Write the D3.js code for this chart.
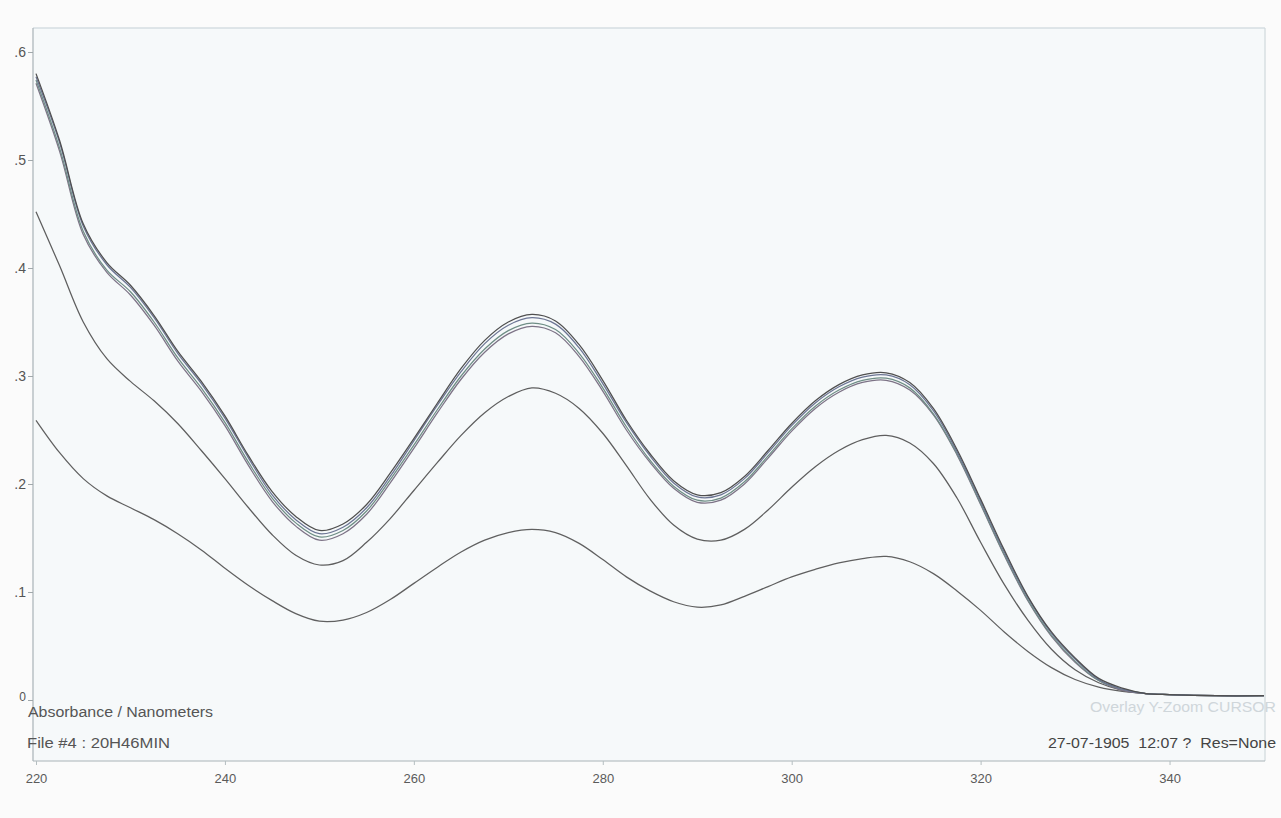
<!DOCTYPE html>
<html>
<head>
<meta charset="utf-8">
<script src="https://cdn.jsdelivr.net/npm/d3@7"></script>
<style>
  html, body { margin: 0; padding: 0; background: #fbfbfb; }
  svg { display: block; }
  text { font-family: "Liberation Sans", Arial, sans-serif; }
</style>
</head>
<body>
<svg id="chart" width="1281" height="818"></svg>
<script>
// ---- data ----
const wavelengths = [220,222.5,225,227.5,230,232.5,235,237.5,240,242.5,245,247.5,250,252.5,255,257.5,260,262.5,265,267.5,270,272.5,275,277.5,280,282.5,285,287.5,290,292.5,295,297.5,300,302.5,305,307.5,310,312.5,315,317.5,320,322.5,325,327.5,330,332.5,335,337.5,340,345,350];

const scan1 = [0.580,0.518,0.441,0.405,0.384,0.356,0.323,0.295,0.263,0.226,0.193,0.170,0.157,0.163,0.181,0.210,0.242,0.275,0.307,0.333,0.350,0.357,0.351,0.329,0.296,0.259,0.228,0.203,0.190,0.192,0.207,0.231,0.256,0.277,0.292,0.301,0.303,0.294,0.270,0.232,0.186,0.139,0.096,0.063,0.039,0.020,0.011,0.006,0.005,0.004,0.004];
const scan2 = [0.577,0.516,0.439,0.403,0.382,0.354,0.321,0.293,0.261,0.224,0.190,0.167,0.154,0.160,0.178,0.207,0.240,0.273,0.304,0.330,0.347,0.354,0.348,0.326,0.293,0.257,0.226,0.201,0.188,0.190,0.205,0.229,0.254,0.275,0.290,0.299,0.301,0.292,0.268,0.230,0.184,0.137,0.095,0.062,0.038,0.019,0.010,0.006,0.005,0.004,0.004];
const scan3 = [0.574,0.511,0.434,0.398,0.378,0.350,0.317,0.289,0.257,0.220,0.187,0.164,0.151,0.157,0.175,0.204,0.236,0.269,0.300,0.325,0.342,0.349,0.343,0.321,0.289,0.253,0.222,0.198,0.185,0.187,0.202,0.226,0.251,0.272,0.287,0.296,0.298,0.289,0.265,0.228,0.182,0.135,0.093,0.060,0.036,0.018,0.010,0.006,0.005,0.004,0.004];
const scan4 = [0.571,0.508,0.431,0.396,0.375,0.347,0.314,0.286,0.254,0.217,0.184,0.161,0.148,0.154,0.172,0.201,0.233,0.266,0.297,0.322,0.339,0.346,0.340,0.318,0.286,0.250,0.220,0.196,0.183,0.185,0.200,0.224,0.249,0.270,0.285,0.294,0.296,0.287,0.264,0.227,0.181,0.134,0.092,0.059,0.035,0.018,0.009,0.006,0.005,0.004,0.004];
const scan5 = [0.452,0.402,0.350,0.316,0.295,0.277,0.256,0.231,0.205,0.178,0.153,0.134,0.125,0.129,0.146,0.168,0.194,0.220,0.245,0.266,0.281,0.289,0.284,0.270,0.247,0.217,0.186,0.162,0.149,0.148,0.158,0.176,0.197,0.216,0.231,0.241,0.245,0.238,0.219,0.187,0.146,0.107,0.074,0.047,0.028,0.016,0.009,0.006,0.005,0.004,0.004];
const scan6 = [0.259,0.229,0.205,0.189,0.178,0.167,0.154,0.139,0.122,0.106,0.092,0.080,0.073,0.074,0.081,0.093,0.108,0.123,0.137,0.148,0.155,0.158,0.155,0.145,0.130,0.114,0.101,0.091,0.086,0.088,0.096,0.105,0.114,0.121,0.127,0.131,0.133,0.128,0.117,0.101,0.083,0.063,0.045,0.030,0.019,0.012,0.008,0.006,0.005,0.004,0.004];

const seriesList = [scan6, scan5, scan4, scan3, scan2, scan1];
const seriesColors = ["#606060", "#5e5e5e", "#7d7386", "#6f8e86", "#6c7594", "#4f4f4f"];

const xTicks = [220, 240, 260, 280, 300, 320, 340];
const yTicks = [0, 0.1, 0.2, 0.3, 0.4, 0.5, 0.6];
const yTickLabels = ["0", ".1", ".2", ".3", ".4", ".5", ".6"];

// ---- drawing ----
const svg = d3.select("#chart");
const frame = {left: 33, top: 28, right: 1265, bottom: 761};

const x = d3.scaleLinear().domain([220, 350]).range([36, 1264]);
const y = d3.scaleLinear().domain([0, 0.6]).range([700, 52]);

// plot background
svg.append("rect")
  .attr("x", frame.left).attr("y", frame.top)
  .attr("width", frame.right - frame.left).attr("height", frame.bottom - frame.top)
  .attr("fill", "#f6f9fa");

// top and right frame
svg.append("line").attr("x1", frame.left).attr("x2", frame.right)
  .attr("y1", frame.top).attr("y2", frame.top)
  .attr("stroke", "#c3d0d5").attr("stroke-width", 1.2);
svg.append("line").attr("x1", frame.right).attr("x2", frame.right)
  .attr("y1", frame.top).attr("y2", frame.bottom)
  .attr("stroke", "#d0d9dc").attr("stroke-width", 1.2);

// y axis
const yAxis = d3.axisLeft(y)
  .tickValues(yTicks)
  .tickFormat((d, i) => yTickLabels[i])
  .tickSize(5).tickPadding(2);
const gy = svg.append("g").attr("transform", `translate(${frame.left},0)`).call(yAxis);
gy.attr("font-size", null).attr("font-family", null);
gy.select(".domain").attr("d", `M0,${frame.top}V${frame.bottom}`).attr("stroke", "#a9b3b7").attr("stroke-width", 1.2);
gy.selectAll(".tick line").attr("stroke", "#a0a8ab");
gy.selectAll(".tick text").attr("fill", "#555")
  .style("font-size", "14px")
  .style("font-family", "'Liberation Sans', Arial, sans-serif");
gy.selectAll(".tick").filter(d => d === 0).select("text")
  .style("font-size", "12px").attr("dy", "0.05em");

// x axis
const xAxis = d3.axisBottom(x)
  .tickValues(xTicks)
  .tickFormat(d3.format("d"))
  .tickSize(4).tickPadding(9);
const gx = svg.append("g").attr("transform", `translate(0,${frame.bottom})`).call(xAxis);
gx.attr("font-size", null).attr("font-family", null);
gx.select(".domain").attr("d", `M${frame.left},0H${frame.right}`).attr("stroke", "#a9b3b7").attr("stroke-width", 1.2);
gx.selectAll(".tick line").attr("stroke", "#b5bec1");
gx.selectAll(".tick text").attr("fill", "#5a5a5a")
  .style("font-size", "13px")
  .style("font-family", "'Liberation Sans', Arial, sans-serif");

// curves
const line = d3.line()
  .x((d, i) => x(wavelengths[i]))
  .y(d => y(d))
  .curve(d3.curveCatmullRom.alpha(0.5));

svg.append("g").selectAll("path")
  .data(seriesList)
  .join("path")
  .attr("d", d => line(d))
  .attr("fill", "none")
  .attr("stroke", (d, i) => seriesColors[i])
  .attr("stroke-width", 1.25)
  .attr("stroke-linejoin", "round");

// annotation texts
svg.append("text").attr("x", 28).attr("y", 717)
  .style("font-size", "14px").attr("fill", "#555")
  .attr("textLength", 185).attr("lengthAdjust", "spacingAndGlyphs")
  .text("Absorbance / Nanometers");
svg.append("text").attr("x", 27).attr("y", 748)
  .style("font-size", "14px").attr("fill", "#555")
  .attr("textLength", 143).attr("lengthAdjust", "spacingAndGlyphs")
  .text("File #4 : 20H46MIN");
svg.append("text").attr("x", 1276).attr("y", 712)
  .attr("text-anchor", "end")
  .style("font-size", "14px").attr("fill", "#cfd6da")
  .attr("textLength", 186).attr("lengthAdjust", "spacingAndGlyphs")
  .text("Overlay Y-Zoom CURSOR");
svg.append("text").attr("x", 1276).attr("y", 748)
  .attr("text-anchor", "end")
  .style("font-size", "14px").attr("fill", "#444")
  .attr("textLength", 228).attr("lengthAdjust", "spacingAndGlyphs")
  .attr("xml:space", "preserve")
  .text("27-07-1905  12:07 ?  Res=None");
</script>
</body>
</html>
